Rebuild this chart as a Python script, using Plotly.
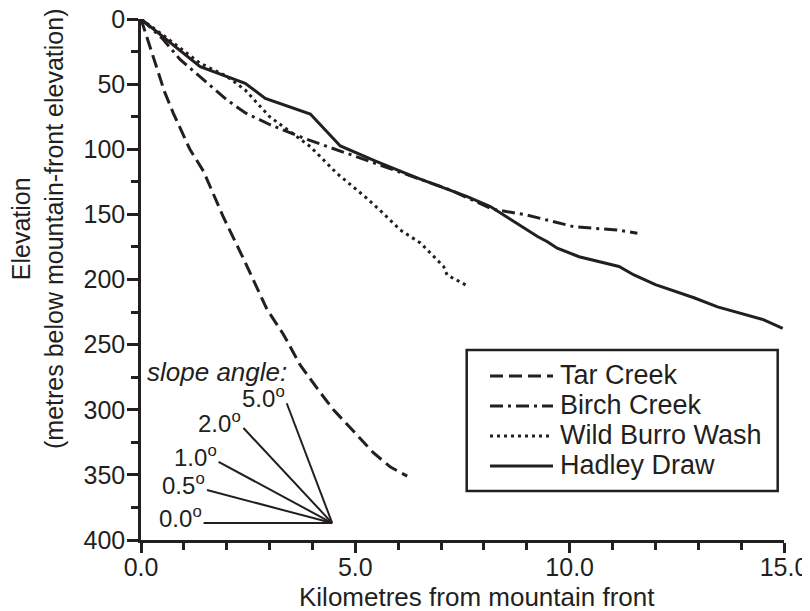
import plotly.graph_objects as go

# ---------------- data ----------------
tar_x = [0.0, 0.45, 0.55, 0.75, 1.14, 1.46, 1.92, 2.39, 2.94, 3.32, 3.48, 3.72, 4.14, 4.49, 5.0, 5.42, 5.82, 6.21]
tar_y = [0, 47, 56, 72, 100, 117, 152, 184, 223, 242, 252, 266, 285, 300, 318, 333, 344, 351]

birch_x = [0.0, 0.5, 0.91, 1.5, 2.0, 2.43, 3.0, 3.8, 4.7, 6.0, 7.2, 8.2, 9.0, 10.1, 11.1, 11.58]
birch_y = [0, 15, 31, 48, 62, 72, 81, 91.5, 102, 117, 131, 146, 150.5, 159.5, 162, 164.5]

wild_x = [0.0, 0.5, 1.38, 2.0, 2.43, 3.0, 3.48, 3.95, 4.57, 5.27, 5.58, 6.05, 6.52, 7.06, 7.14, 7.65]
wild_y = [0, 12, 34, 44, 54.5, 75, 86.5, 98, 118.5, 137.7, 147, 162, 172, 190, 196.5, 205.5]

hadley_x = [0.0, 0.5, 1.38, 2.43, 2.9, 3.95, 4.65, 5.5, 6.44, 7.61, 8.15, 9.25, 9.48, 9.71, 10.22,
            11.15, 11.5, 12.0, 12.9, 13.45, 14.0, 14.53, 14.97]
hadley_y = [0, 13, 36.6, 49.4, 61, 73, 97.5, 109.5, 122, 136.4, 144, 167, 171, 176, 182.5,
            190, 196.5, 204, 214, 221, 226, 231, 237.5]

series_names = ["Tar Creek", "Birch Creek", "Wild Burro Wash", "Hadley Draw"]

# slope-angle fan
slope_labels = ["0.0", "0.5", "1.0", "2.0", "5.0"]
fan_apex_x = 4.46
fan_apex_y = 387
fan_end_x = [1.46, 1.54, 1.81, 2.39, 3.40]
fan_end_y = [387, 361.6, 340, 314, 295]

x_ticks = [0, 5, 10, 15]
x_ticklabels = ["0.0", "5.0", "10.0", "15.0"]
y_ticks = [0, 50, 100, 150, 200, 250, 300, 350, 400]

# ---------------- styling ----------------
INK = "#231f20"
FONT = "Liberation Sans, Arial, Helvetica, sans-serif"
OFF = 8  # page body margin of the html page
W, H = 810 - OFF, 611 - OFF
ML, MR, MT, MB = 141 - OFF, 26, 19 - OFF, 71
PW, PH = W - ML - MR, H - MT - MB

dashes = ["13px,6px", "13px,5px,3px,5px", "3px,4px", "solid"]
series = [(tar_x, tar_y), (birch_x, birch_y), (wild_x, wild_y), (hadley_x, hadley_y)]

fig = go.Figure()
for (xs, ys), name, dash in zip(series, series_names, dashes):
    fig.add_trace(go.Scatter(x=xs, y=ys, mode="lines", name=name, showlegend=False,
                             line=dict(color=INK, width=3, dash=dash)))

# fan lines
fx, fy = [], []
for ex, ey in zip(fan_end_x, fan_end_y):
    fx += [ex, fan_apex_x, None]
    fy += [ey, fan_apex_y, None]
fig.add_trace(go.Scatter(x=fx, y=fy, mode="lines", showlegend=False, hoverinfo="skip",
                         line=dict(color=INK, width=2)))

annotations = []
for lab, ex, ey in zip(slope_labels, fan_end_x, fan_end_y):
    annotations.append(dict(x=ex, y=ey, xref="x", yref="y", text=lab + "<sup>o</sup>",
                            showarrow=False, xanchor="right", yanchor="middle", yshift=6,
                            font=dict(family=FONT, size=24, color=INK)))
annotations.append(dict(x=3.45, y=271, xref="x", yref="y", text="<i>slope angle:</i>",
                        showarrow=False, xanchor="right", yanchor="middle",
                        font=dict(family=FONT, size=26, color=INK)))

# helpers: page pixel -> paper coordinate
def px_x(p):
    return (p - OFF - ML) / PW

def px_y(p):
    return (MT + PH - (p - OFF)) / PH

# axis titles
annotations.append(dict(x=px_x(477.5), y=px_y(597), xref="paper", yref="paper",
                        text="Kilometres from mountain front", showarrow=False,
                        xanchor="center", yanchor="middle",
                        font=dict(family=FONT, size=26, color=INK)))
annotations.append(dict(x=px_x(37), y=px_y(229), xref="paper", yref="paper",
                        text="Elevation<br>(metres below mountain-front elevation)",
                        textangle=-90, showarrow=False, xanchor="center", yanchor="middle",
                        font=dict(family=FONT, size=25, color=INK)))

# manual legend (box, line samples, labels)
shapes = [dict(type="rect", xref="paper", yref="paper",
               x0=px_x(466.7), x1=px_x(777.7), y0=px_y(491), y1=px_y(350),
               line=dict(color=INK, width=2.5), fillcolor="white", layer="above")]
row_y = [375, 405, 435, 465]
for name, dash, ry in zip(series_names, dashes, row_y):
    shapes.append(dict(type="line", xref="paper", yref="paper",
                       x0=px_x(490), x1=px_x(553), y0=px_y(ry + 1), y1=px_y(ry + 1),
                       line=dict(color=INK, width=3, dash=dash), layer="above"))
    annotations.append(dict(x=px_x(558), y=px_y(ry), xref="paper", yref="paper",
                            text=name, showarrow=False, xanchor="left", yanchor="middle",
                            font=dict(family=FONT, size=27, color=INK)))

fig.update_layout(
    width=W, height=H,
    margin=dict(l=ML, r=MR, t=MT, b=MB, autoexpand=False),
    paper_bgcolor="white", plot_bgcolor="white",
    font=dict(family=FONT, color=INK),
    showlegend=False,
    shapes=shapes, annotations=annotations,
    xaxis=dict(range=[0, 15], tickmode="array", tickvals=x_ticks, ticktext=x_ticklabels,
               showgrid=False, zeroline=False, showline=True, linecolor=INK, linewidth=2.5,
               ticks="outside", ticklen=10, tickwidth=2.5, tickcolor=INK,
               ticklabeloverflow="allow", ticklabelstandoff=-7,
               tickfont=dict(family=FONT, size=25, color=INK), automargin=False,
               minor=dict(dtick=1, tick0=0, ticks="outside", ticklen=7, tickwidth=2.5,
                          tickcolor=INK, showgrid=False)),
    yaxis=dict(range=[400, 0], tickmode="array", tickvals=y_ticks,
               showgrid=False, zeroline=False, showline=True, linecolor=INK, linewidth=2.5,
               ticks="outside", ticklen=11, tickwidth=2.5, tickcolor=INK,
               ticklabeloverflow="allow", ticklabelstandoff=-3,
               tickfont=dict(family=FONT, size=25, color=INK), automargin=False,
               minor=dict(dtick=25, tick0=0, ticks="outside", ticklen=7, tickwidth=2.5,
                          tickcolor=INK, showgrid=False)),
)

fig.write_html("out.html")
